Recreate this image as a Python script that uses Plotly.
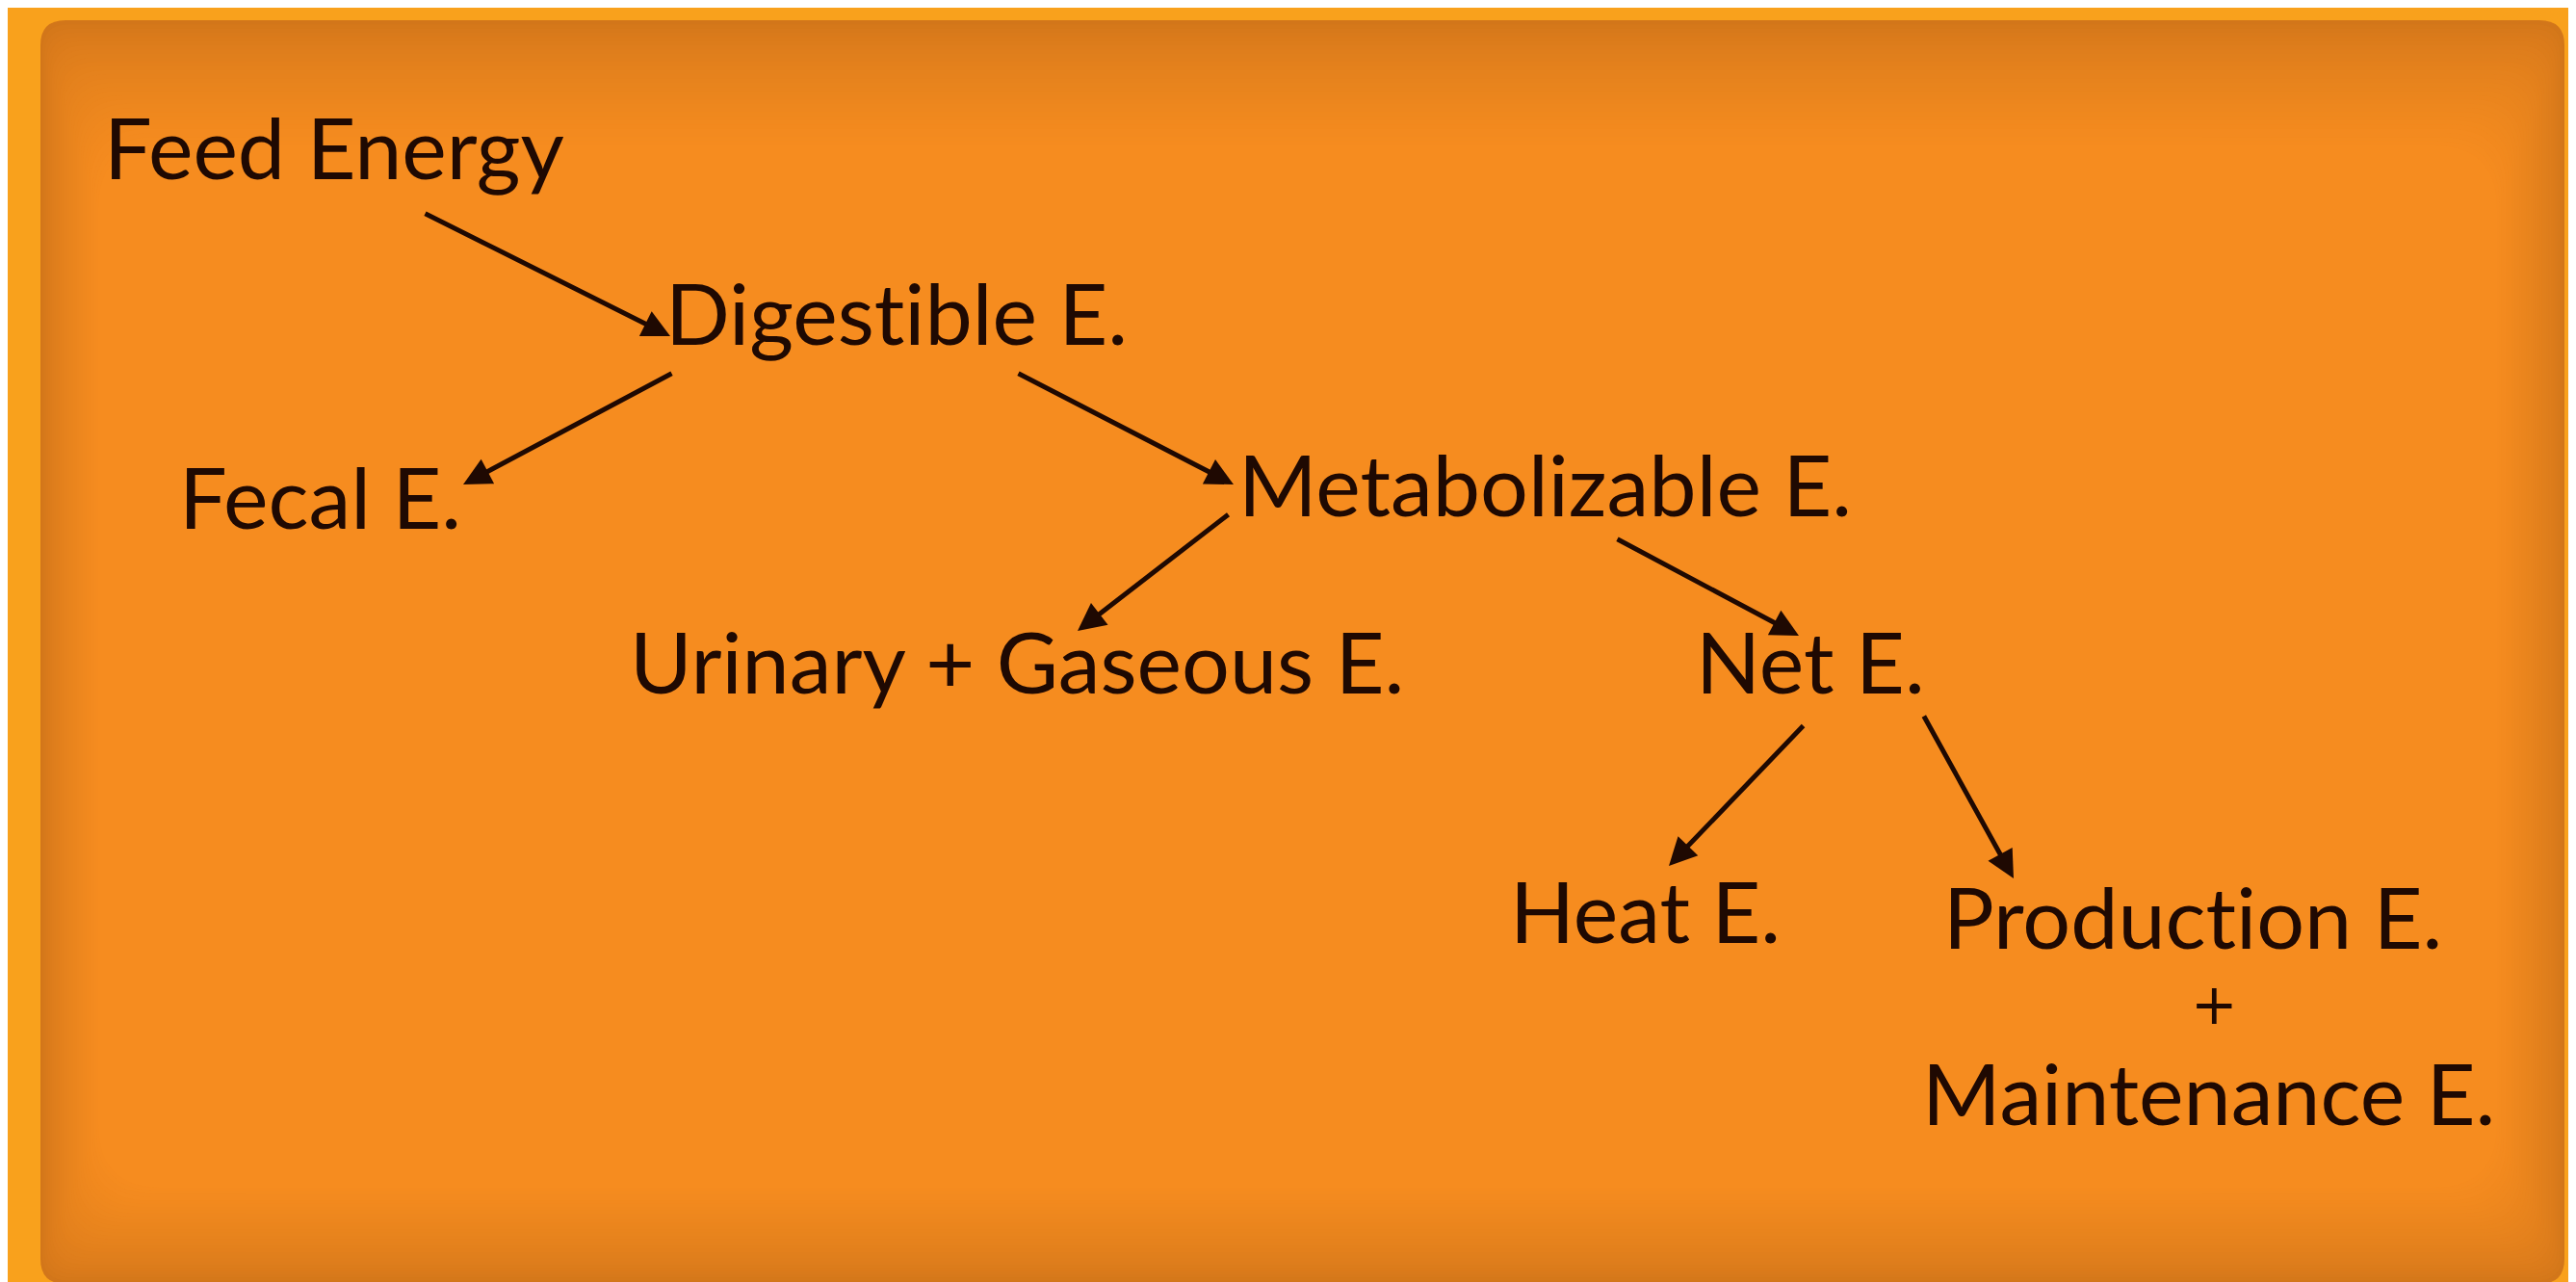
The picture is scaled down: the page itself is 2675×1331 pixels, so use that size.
import plotly.graph_objects as go

W, H = 2675, 1331

# ---- diagram content (pixel coordinates, y downward) ----
ZWNJ = "\u200c"  # prevents the Lato "ti" ligature
labels = ["Feed Energy", "Diges" + "t" + ZWNJ + "ible E.", "Fecal E.", "Metabolizable E.",
          "Urinary + Gaseous E.", "Net E.", "Heat E.", "Produc" + "t" + ZWNJ + "ion E.", "+", "Maintenance E."]
label_x = [99, 682, 177, 1277, 645, 1752, 1559, 2009, 2291, 1987]
label_y = [144, 316, 507, 494, 678, 678, 937, 943, 1035, 1126]
label_anchor = ["left", "left", "left", "left", "left", "left", "left", "left", "center", "left"]
label_size = [88, 88, 88, 88, 88, 88, 88, 88, 58, 88]
label_font = ["Lato"] * 8 + ["DejaVu Sans", "Lato"]

arrow_tail_x = [432, 691, 1048, 1269, 1670, 1866, 1989]
arrow_tail_y = [213, 379, 379, 525, 551, 744, 734]
arrow_head_x = [688, 473, 1273, 1111, 1860, 1725, 2083]
arrow_head_y = [341, 495, 495, 647, 652, 891, 904]

TEXT_COLOR = "#1f0902"
OUTER = "#F9A11C"

fig = go.Figure()
fig.add_trace(go.Scatter(x=[0, W], y=[0, H], mode="markers",
                         marker=dict(opacity=0), hoverinfo="skip", showlegend=False))


def rrect(x0, y0, x1, y1, r):
    return (f"M {x0+r},{y0} L {x1-r},{y0} Q {x1},{y0} {x1},{y0+r} "
            f"L {x1},{y1-r} Q {x1},{y1} {x1-r},{y1} L {x0+r},{y1} "
            f"Q {x0},{y1} {x0},{y1-r} L {x0},{y0+r} Q {x0},{y0} {x0+r},{y0} Z")


def mix(c1, c2, t):
    a = [int(c1[i:i+2], 16) for i in (1, 3, 5)]
    b = [int(c2[i:i+2], 16) for i in (1, 3, 5)]
    return "#%02x%02x%02x" % tuple(round(a[k] + (b[k] - a[k]) * t) for k in range(3))


# inner panel with soft inner shadow (layered rounded rects)
px0, py0, px1, py1 = 34, 13, 2655, 1325
edge_col = "#D2761A"
center_col = "#F68C1F"
n = 30
shapes = []
for i in range(n + 1):
    t = i / n
    col = mix(edge_col, center_col, t ** 0.7)
    inset_l = 60 * t
    inset_r = 70 * t
    inset_t = 130 * t
    inset_b = 100 * t
    r = 26 + 40 * t
    shapes.append(dict(type="path", xref="x", yref="y",
                       path=rrect(px0 + inset_l, py0 + inset_t, px1 - inset_r, py1 - inset_b, r),
                       fillcolor=col, line=dict(width=0), layer="below"))

annotations = []
for lab, x, y, anc, fs, fam in zip(labels, label_x, label_y, label_anchor, label_size, label_font):
    annotations.append(dict(x=x, y=y, xref="x", yref="y", text=lab, showarrow=False,
                            xanchor=anc, yanchor="middle", borderpad=0,
                            font=dict(family=fam, size=fs, color=TEXT_COLOR)))

for tx, ty, hx, hy in zip(arrow_tail_x, arrow_tail_y, arrow_head_x, arrow_head_y):
    annotations.append(dict(x=hx, y=hy, ax=tx, ay=ty, xref="x", yref="y",
                            axref="x", ayref="y", text="", showarrow=True,
                            arrowhead=2, arrowsize=1.15, arrowwidth=5,
                            arrowcolor=TEXT_COLOR, standoff=0, startstandoff=0))

fig.update_layout(
    width=W, height=H,
    margin=dict(l=0, r=0, t=0, b=0),
    paper_bgcolor=OUTER, plot_bgcolor=OUTER,
    xaxis=dict(range=[0, W], visible=False, fixedrange=True),
    yaxis=dict(range=[H, 0], visible=False, fixedrange=True),
    shapes=shapes, annotations=annotations, showlegend=False,
)

fig.write_html("out.html")
